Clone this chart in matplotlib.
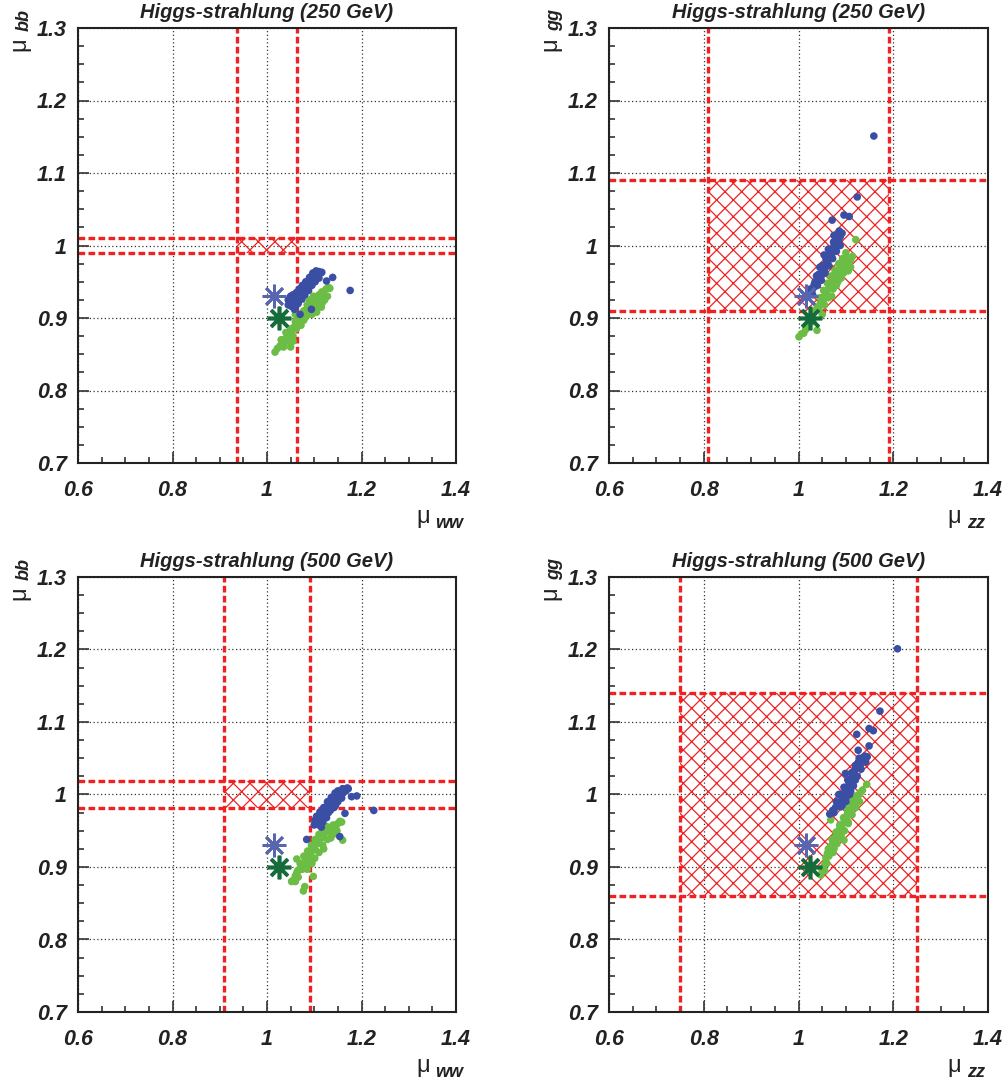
import numpy as np
import matplotlib.pyplot as plt
from matplotlib.patches import Rectangle
from matplotlib.ticker import MultipleLocator, FuncFormatter

plt.rcParams['font.family'] = ['Liberation Sans', 'DejaVu Sans']
plt.rcParams['hatch.linewidth'] = 0.9

titles = ['Higgs-strahlung (250 GeV)', 'Higgs-strahlung (250 GeV)',
          'Higgs-strahlung (500 GeV)', 'Higgs-strahlung (500 GeV)']
xsub = ['WW', 'ZZ', 'WW', 'ZZ']
ysub = ['bb', 'gg', 'bb', 'gg']

# allowed boxes (xlo, xhi, ylo, yhi)
boxes = [(0.937, 1.063, 0.989, 1.011),
         (0.81, 1.19, 0.91, 1.09),
         (0.91, 1.09, 0.982, 1.018),
         (0.75, 1.25, 0.86, 1.14)]

star_blue = (1.015, 0.93)
star_green = (1.025, 0.90)

# panel 1 : mu_WW vs mu_bb (250 GeV)
b1 = [(1.045,0.918),(1.048,0.922),(1.052,0.916),(1.055,0.925),(1.058,0.920),(1.060,0.928),
      (1.062,0.922),(1.065,0.930),(1.068,0.926),(1.070,0.934),(1.072,0.930),(1.075,0.938),
      (1.078,0.935),(1.080,0.942),(1.083,0.940),(1.085,0.946),(1.088,0.944),(1.090,0.950),
      (1.092,0.948),(1.094,0.954),(1.096,0.952),(1.098,0.957),(1.100,0.955),(1.102,0.960),
      (1.104,0.958),(1.106,0.962),(1.108,0.960),(1.110,0.964),(1.113,0.962),(1.116,0.963),
      (1.100,0.962),(1.095,0.958),(1.087,0.950),(1.126,0.951),(1.139,0.956),(1.176,0.938),
      (1.070,0.905),(1.094,0.912),(1.058,0.912),(1.050,0.930),
      (1.050,0.924),(1.055,0.932),(1.062,0.935),(1.068,0.940),(1.075,0.945),(1.082,0.950),
      (1.090,0.956),(1.097,0.962),(1.104,0.965),(1.060,0.915),(1.066,0.920),(1.074,0.926),
      (1.080,0.932),(1.088,0.938),(1.095,0.945),(1.102,0.950),(1.110,0.955),(1.045,0.925),
      (1.053,0.918)]
g1 = [(1.017,0.853),(1.022,0.858),(1.028,0.862),(1.035,0.865),(1.030,0.870),(1.040,0.872),
      (1.045,0.868),(1.048,0.878),(1.052,0.882),(1.055,0.875),(1.058,0.888),(1.062,0.885),
      (1.065,0.892),(1.068,0.896),(1.072,0.890),(1.075,0.900),(1.078,0.897),(1.080,0.905),
      (1.083,0.902),(1.085,0.910),(1.088,0.907),(1.090,0.915),(1.093,0.912),(1.095,0.920),
      (1.098,0.917),(1.100,0.924),(1.103,0.921),(1.105,0.928),(1.108,0.925),(1.110,0.932),
      (1.113,0.930),(1.116,0.936),(1.120,0.934),(1.125,0.940),(1.130,0.942),(1.133,0.941),
      (1.122,0.925),(1.090,0.925),(1.060,0.905),(1.040,0.880),(1.050,0.860),(1.115,0.915),
      (1.128,0.930),
      (1.095,0.905),(1.100,0.912),(1.105,0.918),(1.110,0.922),(1.115,0.928),(1.120,0.930),
      (1.105,0.908),(1.112,0.918),(1.118,0.922),(1.098,0.930),(1.085,0.918),(1.078,0.910),
      (1.070,0.900),(1.060,0.895),(1.050,0.885),(1.045,0.875),(1.035,0.860),(1.055,0.868)]

# panel 2 : mu_ZZ vs mu_gg (250 GeV)
b2 = [(1.020,0.930),(1.025,0.935),(1.030,0.940),(1.033,0.946),(1.036,0.944),(1.040,0.952),
      (1.043,0.955),(1.046,0.960),(1.048,0.958),(1.050,0.966),(1.053,0.970),(1.055,0.968),
      (1.058,0.975),(1.060,0.980),(1.062,0.978),(1.065,0.985),(1.067,0.990),(1.070,0.988),
      (1.072,0.995),(1.075,1.000),(1.077,0.997),(1.080,1.004),(1.082,1.008),(1.085,1.006),
      (1.088,1.012),(1.090,1.016),(1.092,1.017),(1.045,0.970),(1.054,0.987),(1.075,1.014),
      (1.071,1.035),(1.096,1.042),(1.107,1.040),(1.124,1.067),(1.159,1.151),(1.063,0.995),
      (1.038,0.958),(1.086,1.020),
      (1.035,0.950),(1.042,0.960),(1.050,0.972),(1.058,0.982),(1.066,0.994),(1.074,1.005),
      (1.082,1.014),(1.040,0.945),(1.048,0.952),(1.056,0.962),(1.064,0.972),(1.072,0.982),
      (1.080,0.992),(1.088,1.000),(1.025,0.940),(1.030,0.932)]
g2 = [(1.001,0.874),(1.006,0.878),(1.011,0.879),(1.015,0.884),(1.039,0.883),(1.030,0.905),
      (1.035,0.910),(1.040,0.915),(1.043,0.912),(1.046,0.920),(1.050,0.925),(1.052,0.922),
      (1.055,0.930),(1.058,0.935),(1.060,0.932),(1.063,0.940),(1.066,0.945),(1.068,0.942),
      (1.071,0.950),(1.074,0.955),(1.076,0.952),(1.079,0.960),(1.082,0.963),(1.085,0.960),
      (1.088,0.968),(1.091,0.972),(1.094,0.970),(1.097,0.976),(1.100,0.978),(1.103,0.975),
      (1.106,0.982),(1.110,0.980),(1.114,0.985),(1.121,1.008),(1.105,0.965),(1.090,0.955),
      (1.070,0.930),(1.080,0.945),(1.050,0.905),(1.100,0.990),
      (1.045,0.928),(1.053,0.938),(1.061,0.948),(1.069,0.958),(1.077,0.966),(1.085,0.975),
      (1.093,0.982),(1.055,0.918),(1.063,0.928),(1.073,0.940),(1.083,0.950),(1.095,0.962),
      (1.105,0.972),(1.110,0.970),(1.020,0.890),(1.030,0.895)]

# panel 3 : mu_WW vs mu_bb (500 GeV)
b3 = [(1.084,0.938),(1.102,0.965),(1.105,0.960),(1.108,0.968),(1.110,0.962),(1.113,0.970),
      (1.116,0.966),(1.118,0.974),(1.120,0.970),(1.123,0.979),(1.126,0.976),(1.128,0.984),
      (1.131,0.982),(1.134,0.988),(1.137,0.986),(1.140,0.992),(1.143,0.990),(1.146,0.996),
      (1.149,0.994),(1.152,1.000),(1.155,0.998),(1.158,1.004),(1.161,1.002),(1.164,1.007),
      (1.167,1.005),(1.170,1.009),(1.172,1.008),(1.165,0.974),(1.154,0.942),(1.179,0.997),
      (1.190,0.998),(1.226,0.978),(1.145,0.985),(1.130,0.975),(1.115,0.955),(1.150,1.005),
      (1.105,0.970),(1.112,0.976),(1.120,0.982),(1.128,0.990),(1.136,0.996),(1.144,1.002),
      (1.110,0.958),(1.118,0.962),(1.126,0.968),(1.134,0.978),(1.142,0.982),(1.150,0.990),
      (1.158,0.995),(1.160,1.008),(1.100,0.958)]
g3 = [(1.052,0.880),(1.056,0.882),(1.060,0.888),(1.063,0.892),(1.066,0.886),(1.069,0.896),
      (1.072,0.900),(1.075,0.897),(1.078,0.905),(1.081,0.909),(1.084,0.905),(1.087,0.914),
      (1.090,0.918),(1.093,0.915),(1.096,0.923),(1.099,0.927),(1.102,0.924),(1.105,0.932),
      (1.108,0.936),(1.111,0.933),(1.114,0.941),(1.117,0.944),(1.120,0.941),(1.124,0.948),
      (1.128,0.952),(1.132,0.949),(1.136,0.955),(1.140,0.958),(1.145,0.955),(1.150,0.960),
      (1.158,0.962),(1.160,0.937),(1.154,0.963),(1.063,0.911),(1.077,0.867),(1.080,0.873),
      (1.098,0.887),(1.120,0.925),(1.135,0.940),(1.095,0.905),
      (1.070,0.905),(1.078,0.915),(1.086,0.922),(1.094,0.930),(1.102,0.938),(1.110,0.945),
      (1.118,0.950),(1.126,0.956),(1.085,0.897),(1.093,0.905),(1.101,0.912),(1.110,0.920),
      (1.118,0.930),(1.128,0.938),(1.140,0.945),(1.148,0.950),(1.065,0.895),(1.060,0.880)]

# panel 4 : mu_ZZ vs mu_gg (500 GeV)
b4 = [(1.066,0.973),(1.072,0.978),(1.078,0.982),(1.083,0.988),(1.089,0.983),(1.092,0.993),
      (1.095,0.998),(1.098,1.003),(1.100,0.995),(1.103,1.008),(1.106,1.013),(1.109,1.018),
      (1.099,1.029),(1.112,1.023),(1.115,1.028),(1.118,1.032),(1.121,1.037),(1.124,1.041),
      (1.127,1.045),(1.130,1.040),(1.133,1.048),(1.136,1.051),(1.140,1.053),(1.145,1.052),
      (1.142,1.045),(1.126,1.061),(1.149,1.067),(1.123,1.083),(1.149,1.091),(1.158,1.088),
      (1.172,1.115),(1.209,1.201),(1.085,1.000),(1.110,1.005),(1.120,1.020),
      (1.080,0.990),(1.088,1.000),(1.096,1.010),(1.104,1.020),(1.112,1.030),(1.120,1.040),
      (1.128,1.050),(1.092,0.985),(1.100,0.990),(1.108,1.000),(1.116,1.012),(1.124,1.025),
      (1.132,1.035),(1.140,1.045),(1.075,0.975)]
g4 = [(1.047,0.889),(1.050,0.895),(1.053,0.900),(1.056,0.905),(1.058,0.912),(1.061,0.919),
      (1.064,0.915),(1.066,0.925),(1.068,0.965),(1.070,0.930),(1.073,0.935),(1.076,0.940),
      (1.079,0.937),(1.082,0.945),(1.085,0.950),(1.088,0.955),(1.091,0.952),(1.094,0.960),
      (1.096,0.937),(1.098,0.965),(1.101,0.970),(1.104,0.975),(1.107,0.972),(1.110,0.980),
      (1.113,0.985),(1.116,0.982),(1.119,0.990),(1.122,0.995),(1.125,0.993),(1.128,1.000),
      (1.131,1.003),(1.135,1.006),(1.144,1.014),(1.075,0.925),(1.090,0.945),(1.105,0.960),
      (1.060,0.905),
      (1.063,0.925),(1.071,0.938),(1.079,0.948),(1.087,0.958),(1.095,0.968),(1.103,0.980),
      (1.111,0.990),(1.119,0.998),(1.073,0.920),(1.081,0.932),(1.089,0.942),(1.097,0.950),
      (1.105,0.962),(1.113,0.972),(1.121,0.982),(1.129,0.990),(1.055,0.895),(1.060,0.915)]

blues = [b1, b2, b3, b4]
greens = [g1, g2, g3, g4]

W, H = 1007, 1086
fig = plt.figure(figsize=(W / 100, H / 100), dpi=100)

# axes boxes in pixels (left, top, right, bottom)
pix = [(78, 28, 456, 463), (609, 28, 988, 463),
       (78, 577, 456, 1012), (609, 577, 988, 1012)]

blue_c = '#3a4fa3'
green_c = '#6cbd45'
red_c = '#ee2222'

fmt = FuncFormatter(lambda v, p: '%g' % round(v, 2))

for i in range(4):
    l, t, r, b = pix[i]
    ax = fig.add_axes([l / W, 1 - b / H, (r - l) / W, (b - t) / H])
    ax.set_xlim(0.6, 1.4)
    ax.set_ylim(0.7, 1.3)
    ax.xaxis.set_major_locator(MultipleLocator(0.2))
    ax.xaxis.set_minor_locator(MultipleLocator(0.05))
    ax.yaxis.set_major_locator(MultipleLocator(0.1))
    ax.yaxis.set_minor_locator(MultipleLocator(0.025))
    ax.xaxis.set_major_formatter(fmt)
    ax.yaxis.set_major_formatter(fmt)
    ax.tick_params(which='both', direction='in', top=False, right=False,
                   width=1.2, color='#333333')
    ax.tick_params(which='major', length=8)
    ax.tick_params(which='minor', length=4)
    ax.tick_params(axis='x', which='major', pad=12)
    ax.tick_params(axis='y', which='major', pad=8)
    for lab in ax.get_xticklabels() + ax.get_yticklabels():
        lab.set_fontsize(15.5)
        lab.set_fontweight('bold')
        lab.set_fontstyle('italic')
        lab.set_color('#222222')
    for sp in ax.spines.values():
        sp.set_linewidth(1.5)
        sp.set_color('#222222')
    ax.grid(True, which='major', color='#333333', linestyle=(0, (1, 2)), linewidth=0.9)
    ax.set_axisbelow(True)

    xlo, xhi, ylo, yhi = boxes[i]
    ax.add_patch(Rectangle((xlo, ylo), xhi - xlo, yhi - ylo, fill=False,
                           hatch='xx', edgecolor=red_c, linewidth=0, zorder=1.5))
    for v in (xlo, xhi):
        ax.axvline(v, color=red_c, linestyle=(0, (2, 1)), linewidth=2.4, zorder=1.6)
    for v in (ylo, yhi):
        ax.axhline(v, color=red_c, linestyle=(0, (2, 1)), linewidth=2.4, zorder=1.6)

    bx, by = zip(*blues[i])
    gx, gy = zip(*greens[i])
    ax.scatter(gx, gy, s=30, color=green_c, edgecolors='none', zorder=3)
    ax.scatter(bx, by, s=30, color=blue_c, edgecolors='none', zorder=3.1)
    ax.plot(*star_blue, marker=(8, 2, 0), markersize=17, color='#5866b0',
            markeredgewidth=2.0, zorder=4)
    ax.plot(*star_green, marker=(8, 2, 0), markersize=17, color='#166b3a',
            markeredgewidth=2.6, zorder=4)

    ax.set_title(titles[i], fontsize=14.5, fontweight='bold', fontstyle='italic',
                 color='#222222', pad=7)
    # y label: mu with bold italic subscript, rotated
    ax.text(-0.155, 0.962, '\u03bc', transform=ax.transAxes, rotation=90,
            fontsize=17, ha='center', va='center', color='#222222')
    ax.text(-0.143, 0.992, ysub[i].lower(), transform=ax.transAxes, rotation=90,
            fontsize=13, fontweight='bold', fontstyle='italic', ha='center',
            va='bottom', color='#222222')
    # x label
    ax.text(0.93, -0.125, '\u03bc', transform=ax.transAxes, fontsize=17,
            ha='right', va='center', color='#222222')
    ax.text(0.945, -0.138, xsub[i].lower(), transform=ax.transAxes, fontsize=13,
            fontweight='bold', fontstyle='italic', ha='left', va='center',
            color='#222222')

fig.savefig('out.png', dpi=100)
